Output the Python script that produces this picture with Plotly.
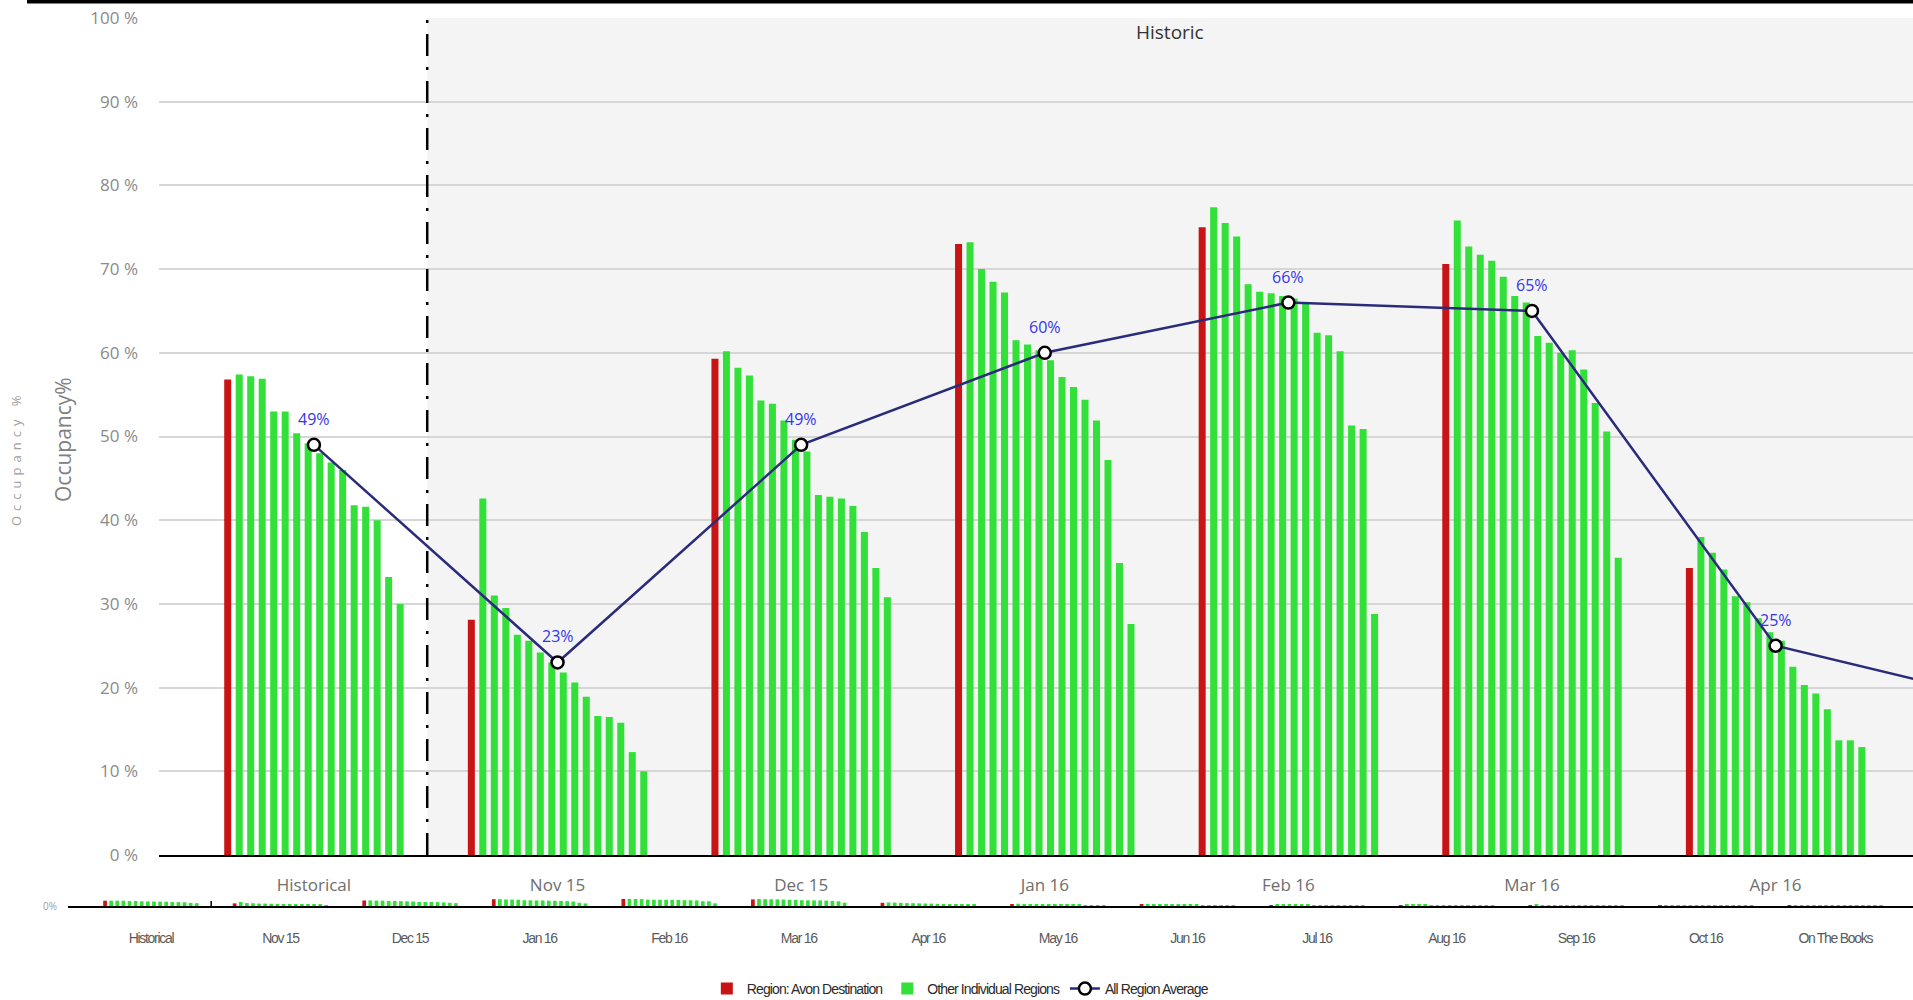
import plotly.graph_objects as go

# ---- data -------------------------------------------------------------
categories = ["Historical", "Nov 15", "Dec 15", "Jan 16", "Feb 16", "Mar 16", "Apr 16",
              "May 16", "Jun 16", "Jul 16", "Aug 16", "Sep 16", "Oct 16", "On The Books"]

# Region: Avon Destination occupancy (%)
avon_destination = [56.8, 28.1, 59.3, 73.0, 75.0, 70.6, 34.3,
                    15.5, 12.2, 9.8, 8.4, 6.9, 5.1, 3.6]

# Other individual regions (15 regions) occupancy (%) per period
others_historical = [57.4, 57.2, 56.9, 53.0, 53.0, 50.4, 49.2, 48.0, 46.9, 46.0, 41.8, 41.6, 40.0, 33.2, 30.0]
others_nov15 = [42.6, 31.0, 29.5, 26.3, 25.6, 24.2, 23.0, 21.8, 20.6, 18.9, 16.6, 16.5, 15.8, 12.3, 10.0]
others_dec15 = [60.2, 58.2, 57.3, 54.3, 53.9, 51.9, 49.6, 48.2, 43.0, 42.8, 42.6, 41.7, 38.6, 34.3, 30.8]
others_jan16 = [73.2, 70.0, 68.5, 67.2, 61.5, 61.0, 60.3, 59.1, 57.1, 55.9, 54.4, 51.9, 47.2, 34.9, 27.6]
others_feb16 = [77.4, 75.5, 73.9, 68.2, 67.3, 67.1, 66.8, 66.5, 65.9, 62.4, 62.1, 60.2, 51.3, 50.9, 28.8]
others_mar16 = [75.8, 72.7, 71.7, 71.0, 69.1, 66.8, 66.0, 62.0, 61.2, 60.0, 60.3, 58.0, 54.0, 50.6, 35.5]
others_apr16 = [38.0, 36.1, 34.1, 30.9, 30.2, 28.3, 26.6, 25.6, 22.5, 20.3, 19.3, 17.4, 13.7, 13.7, 12.9]
others_may16 = [23.8, 22.1, 21.4, 19.6, 18.9, 17.2, 16.5, 15.1, 14.3, 12.8, 11.9, 10.2, 9.4, 7.7, 6.1]
others_jun16 = [19.7, 18.4, 17.1, 16.3, 15.0, 13.9, 13.1, 11.8, 10.9, 9.6, 8.8, 7.5, 6.3, 5.2, 4.0]
others_jul16 = [16.2, 15.1, 14.0, 13.3, 12.1, 11.4, 10.2, 9.5, 8.3, 7.6, 6.8, 5.7, 4.9, 3.8, 2.9]
others_aug16 = [13.5, 12.6, 11.8, 10.9, 10.2, 9.3, 8.7, 7.9, 7.0, 6.4, 5.5, 4.8, 4.0, 3.1, 2.4]
others_sep16 = [11.2, 10.4, 9.8, 9.1, 8.3, 7.7, 7.0, 6.4, 5.8, 5.1, 4.5, 3.9, 3.2, 2.6, 2.0]
others_oct16 = [8.9, 8.3, 7.6, 7.1, 6.5, 6.0, 5.4, 4.9, 4.4, 3.8, 3.3, 2.9, 2.4, 1.9, 1.5]
others_on_the_books = [6.8, 6.1, 5.7, 5.2, 4.8, 4.3, 3.9, 3.5, 3.1, 2.7, 2.4, 2.0, 1.7, 1.3, 1.0]

# All Region Average (%)
average_categories = categories[:8]
all_region_average = [49, 23, 49, 60, 66, 65, 25, 18]

others_by_period = [others_historical, others_nov15, others_dec15, others_jan16, others_feb16,
                    others_mar16, others_apr16, others_may16, others_jun16, others_jul16,
                    others_aug16, others_sep16, others_oct16, others_on_the_books]

# ---- styling ----------------------------------------------------------
RED = "#c81414"
GREEN = "#33e03a"
LINE = "#2b2b7c"
SANS = "Liberation Sans, Arial, sans-serif"
MAIN_FONT = "Open Sans, Noto Sans, sans-serif"

W, H = 1913, 1000
main_x_range = [-0.636, 6.564]
nav_x_range = [-0.64, 13.6]
history_split = 0.465


def condensed(text, spacing=-0.9):
    return f'<span style="letter-spacing:{spacing}px">{text}</span>'


fig = go.Figure()

n_regions = len(others_historical)


def add_bar_set(xaxis, yaxis, show_legend):
    fig.add_trace(go.Bar(
        x=categories, y=avon_destination, name=condensed("Region: Avon Destination"),
        marker=dict(color=RED, line=dict(width=0)), xaxis=xaxis, yaxis=yaxis,
        legendgroup="avon", showlegend=show_legend, hoverinfo="skip"))
    for r in range(n_regions):
        fig.add_trace(go.Bar(
            x=categories, y=[period[r] for period in others_by_period],
            name=condensed("Other Individual Regions"), marker=dict(color=GREEN, line=dict(width=0)),
            xaxis=xaxis, yaxis=yaxis, legendgroup="others",
            showlegend=show_legend and r == 0, hoverinfo="skip"))


# main chart bars and the overview strip bars
add_bar_set("x", "y", True)
add_bar_set("x2", "y2", False)

# average line
fig.add_trace(go.Scatter(
    x=average_categories, y=all_region_average, mode="lines+markers",
    name=condensed("All Region Average"), line=dict(color=LINE, width=2.5),
    marker=dict(symbol="circle", size=12, color="white", line=dict(color="black", width=2.5)),
    xaxis="x", yaxis="y", hoverinfo="skip"))

# value labels above the average markers
for i, v in enumerate(all_region_average):
    if i <= main_x_range[1]:
        fig.add_annotation(x=average_categories[i], y=v, xref="x", yref="y",
                           text=f"{v}%", showarrow=False, yshift=26,
                           font=dict(family=MAIN_FONT, size=16, color="#3535f0"))

shapes = [
    # historic band background
    dict(type="rect", xref="x", yref="y", x0=history_split, x1=main_x_range[1], y0=0, y1=100,
         fillcolor="#f4f4f4", line=dict(width=0), layer="below"),
    # dash-dot divider
    dict(type="line", xref="x", yref="y", x0=history_split, x1=history_split, y0=0, y1=100,
         line=dict(color="black", width=2.5, dash="22px,11px,3px,11px"), layer="above"),
    # divider mark on overview strip
    dict(type="line", xref="x2", yref="paper", x0=history_split, x1=history_split,
         y0=1 - 906 / H, y1=1 - 901 / H, line=dict(color="black", width=1.5)),
    # top black border
    dict(type="rect", xref="paper", yref="paper", x0=27 / W, x1=1, y0=1 - 3.5 / H, y1=1,
         fillcolor="black", line=dict(width=0)),
]

fig.add_annotation(x=(history_split + main_x_range[1]) / 2, y=100, xref="x", yref="y",
                   text="Historic", showarrow=False, yshift=-14,
                   font=dict(family=MAIN_FONT, size=19, color="#333333"))

# axis titles
fig.add_annotation(x=63 / W, y=1 - 440 / H, xref="paper", yref="paper",
                   xanchor="center", yanchor="middle",
                   text="Occupancy%", textangle=-90, showarrow=False,
                   font=dict(family=MAIN_FONT, size=21, color="#808080"))
fig.add_annotation(x=16 / W, y=1 - 458 / H, xref="paper", yref="paper",
                   xanchor="center", yanchor="middle",
                   text='<span style="letter-spacing:5px">Occupancy %</span>', textangle=-90,
                   showarrow=False, font=dict(family=MAIN_FONT, size=13, color="#a0a0a0"))

fig.update_layout(
    width=W, height=H,
    margin=dict(l=0, r=0, t=0, b=0, pad=0, autoexpand=False),
    paper_bgcolor="white", plot_bgcolor="rgba(0,0,0,0)",
    barmode="group", bargap=0.245, bargroupgap=0.39,
    shapes=shapes,
    showlegend=True,
    legend=dict(orientation="h", x=0.502, xanchor="center", y=1 - 989 / H, yanchor="middle",
                font=dict(family=SANS, size=14, color="#2a2a2a"), itemwidth=30,
                bgcolor="rgba(0,0,0,0)"),
    xaxis=dict(domain=[159 / W, 1], type="category", range=main_x_range, automargin=False,
               showline=True, linecolor="black", linewidth=2, showgrid=False,
               ticks="", ticklabelstandoff=14, anchor="y",
               tickfont=dict(family=MAIN_FONT, size=17, color="#6e6e6e"), fixedrange=True),
    yaxis=dict(domain=[1 - 855 / H, 1 - 18 / H], range=[0, 100], dtick=10, ticksuffix=" %",
               automargin=False,
               showgrid=True, gridcolor="#d6d6d6", gridwidth=1.5, zeroline=False,
               showline=False, ticks="", ticklabelstandoff=20, anchor="x",
               tickfont=dict(family=MAIN_FONT, size=17, color="#8a8a8a"), fixedrange=True),
    xaxis2=dict(domain=[68 / W, 1], type="category", range=nav_x_range, anchor="y2",
                automargin=False,
                showline=True, linecolor="black", linewidth=2, showgrid=False,
                ticks="", ticklabelstandoff=18,
                tickvals=categories, ticktext=[condensed(c, -1.3) for c in categories],
                tickfont=dict(family=SANS, size=14, color="#5a5a5a"), fixedrange=True),
    yaxis2=dict(domain=[1 - 906 / H, 1 - 899 / H], range=[0, 75], anchor="x2",
                automargin=False,
                tickvals=[0], ticktext=["0%"], showgrid=False, zeroline=False,
                ticks="", ticklabelstandoff=10,
                tickfont=dict(family=MAIN_FONT, size=10, color="#a0a0a0"), fixedrange=True),
)

fig.write_html("out.html", post_script="document.body.style.margin = '0px';")
